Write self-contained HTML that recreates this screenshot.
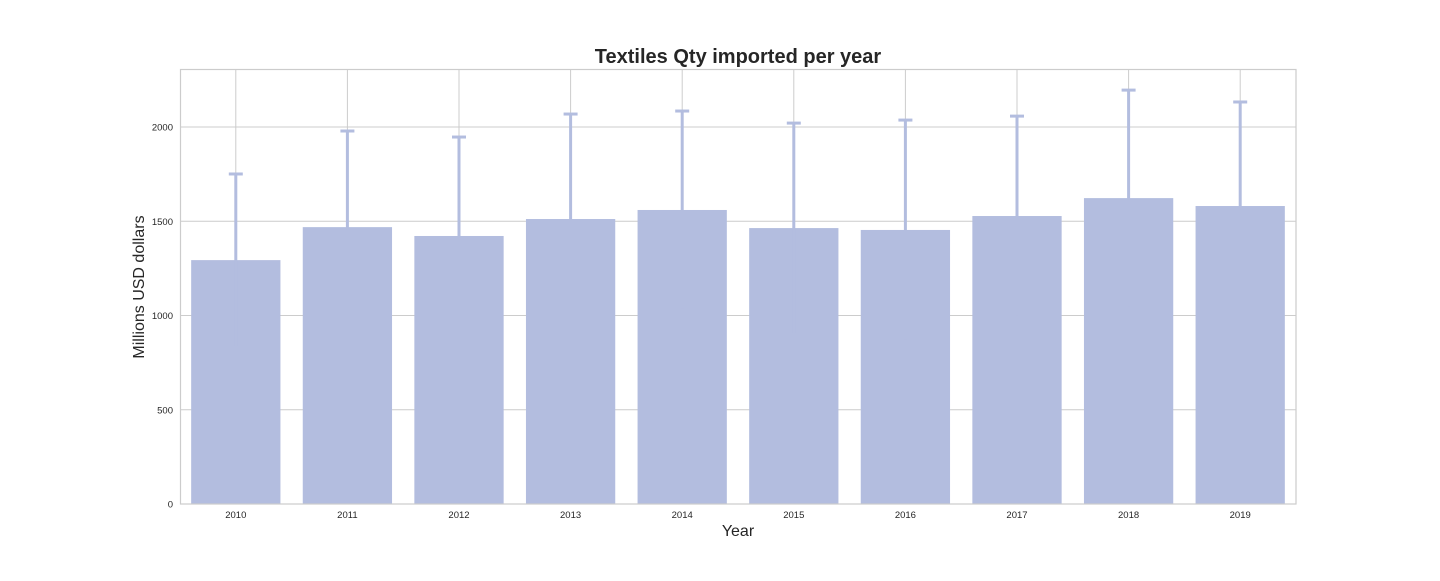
<!DOCTYPE html>
<html><head><meta charset="utf-8"><style>
body{margin:0;background:#fff;}
svg text{font-family:"Liberation Sans",Arial,sans-serif;}
</style></head><body>
<svg id="chart" width="1440" height="576">
<text x="738" y="63" text-anchor="middle" font-size="20" font-weight="bold" fill="#262626">Textiles Qty imported per year</text>
<text x="738" y="536" text-anchor="middle" font-size="16" fill="#262626">Year</text>
<text transform="translate(144,287) rotate(-90)" text-anchor="middle" font-size="16" fill="#262626">Millions USD dollars</text>
<g id="grid"></g><g id="bars"></g><g id="errs"></g><g id="ticks"></g>
<rect x="180.5" y="69.5" width="1115.5" height="434.5" fill="none" stroke="#cccccc" stroke-width="1.2"/>
</svg>
<script>
const categories=["2010","2011","2012","2013","2014","2015","2016","2017","2018","2019"];
const values=[1294,1469,1422,1512,1560,1464,1454,1528,1623,1581];
const errUpper=[1751,1979,1947,2069,2085,2021,2037,2058,2196,2133];
const yTicks=[0,500,1000,1500,2000];
const NS="http://www.w3.org/2000/svg";
const x0=180,x1=1296,yB=504,yMax=2308,yT=69;
const slot=(x1-x0)/categories.length;
const xc=i=>x0+slot*(i+0.5);
const y=v=>yB-(v/yMax)*(yB-yT);
function mk(tag,attrs,parent,txt){const e=document.createElementNS(NS,tag);for(const k in attrs)e.setAttribute(k,attrs[k]);if(txt!==undefined)e.textContent=txt;document.getElementById(parent).appendChild(e);return e;}
yTicks.forEach(t=>{
 const l=mk('line',{x1:x0,x2:x1,y1:y(t),y2:y(t),stroke:'#cccccc','stroke-width':1},'grid');
 
 
 const tx=mk('text',{x:173,y:y(t)+3.5,'text-anchor':'end','font-size':9.5,fill:'#262626'},'ticks',t);
 
 
});
categories.forEach((c,i)=>{
 const g=mk('line',{x1:xc(i),x2:xc(i),y1:yT,y2:yB,stroke:'#cccccc','stroke-width':1},'grid');
 
 
 const w=slot*0.8;
 const b=mk('rect',{x:xc(i)-w/2,y:y(values[i]),width:w,height:yB-y(values[i]),fill:'#b3bddf'},'bars');
 
 
 const lo=Math.max(0,2*values[i]-errUpper[i]);
 const e=mk('line',{x1:xc(i),x2:xc(i),y1:y(errUpper[i]),y2:y(lo),stroke:'#b3bddf','stroke-width':3},'errs');
 
 
 const cap=mk('line',{x1:xc(i)-7,x2:xc(i)+7,y1:y(errUpper[i]),y2:y(errUpper[i]),stroke:'#b3bddf','stroke-width':3},'errs');
 
 
 const tx=mk('text',{x:xc(i),y:518,'text-anchor':'middle','font-size':9.5,fill:'#262626'},'ticks',c);
 
 
});
</script>
</body></html>
